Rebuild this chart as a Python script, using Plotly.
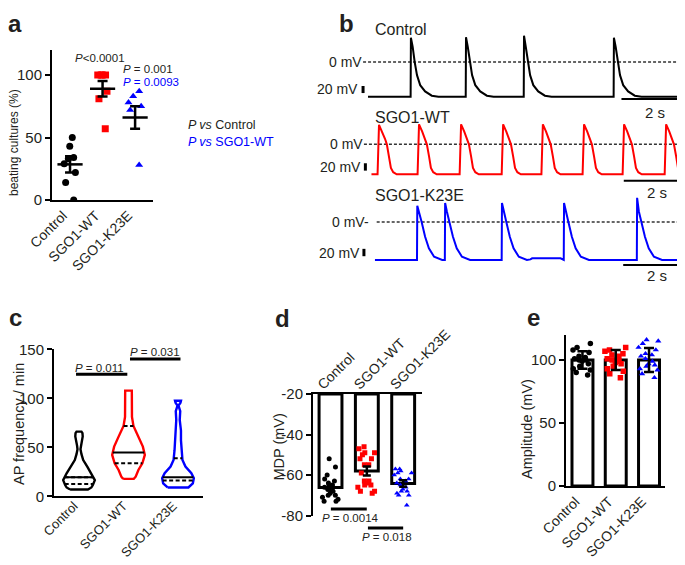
import numpy as np
import plotly.graph_objects as go

W, H = 685, 565
OFF = 8  # the page body adds an 8 px margin; positions below are page pixels
FONT = "Liberation Sans, Arial, Helvetica, sans-serif"
INK = "#231f20"

groups = ["Control", "SGO1-WT", "SGO1-K23E"]
colors = ["#000000", "#ff0000", "#0000ff"]
symbols = ["circle", "square", "triangle-up"]

# a: beating cultures (%)
beat_ctrl = [50, 43, 34, 33, 29, 22, 14, 0]
beat_wt = [100, 100, 100, 100, 87, 81, 57]
beat_k23e = [87, 83, 78, 75, 72, 28]
beat_mean = [28.5, 89, 66]
beat_sem = [6.5, 6.2, 9]

# b: action potentials, time (s) / membrane potential (mV)
ctrl_spikes = [1.48, 3.38, 5.38, 8.48]
ctrl_peaks = [46, 47, 50, 46]
ctrl_shape_t = [-0.01, 0, 0.06, 0.13, 0.21, 0.32, 0.49, 0.72, 0.95]
ctrl_shape_v = [-66, 46, 29, 0, -25, -44, -56, -64, -66]

wt_spikes = [0.38, 1.76, 3.21, 4.66, 6.03, 7.45, 8.83, 10.28]
wt_peaks = [37, 38, 38, 38, 38, 38, 38, 38]
wt_shape_t = [-0.05, 0, 0.11, 0.21, 0.27, 0.345, 0.41, 0.49, 0.61]
wt_shape_v = [-57, 38, 24, 10, 0, -23, -45, -53, -57]

k23e_spikes = [1.70, 2.66, 4.62, 6.76, 9.28]
k23e_peaks = [31, 36, 36, 36, 46]
k23e_shape_t = [-0.01, 0, 0.06, 0.15, 0.27, 0.40, 0.58, 0.86]
k23e_shape_v = [-72, 36, 20, 0, -28, -50, -66, -72]
k23e_bump_t = [5.6, 5.66, 6.64, 6.71]
k23e_bump_v = [-71, -69, -69, -71]

# c: AP frequency / min, violin outlines (value, half width in category units)
vio_ctrl_y = [7, 9, 11.5, 16.5, 23.5, 30, 37, 43, 48, 52, 56, 61, 64.5, 66]
vio_ctrl_w = [0.18, 0.25, 0.28, 0.32, 0.25, 0.17, 0.085, 0.05, 0.03, 0.04, 0.06, 0.075, 0.07, 0.05]
vio_wt_y = [17.8, 20, 26.9, 33.7, 42.2, 50.7, 60.9, 71.8, 81, 95, 107.8]
vio_wt_w = [0.107, 0.145, 0.2, 0.28, 0.33, 0.29, 0.2, 0.1, 0.07, 0.067, 0.067]
vio_k23e_y = [9, 13.3, 18.4, 23.5, 30.3, 37, 47, 57, 67, 78, 87, 92.5, 95.5, 97.5]
vio_k23e_w = [0.21, 0.3, 0.32, 0.27, 0.15, 0.09, 0.07, 0.06, 0.06, 0.035, 0.045, 0.01, 0.05, 0.06]
freq_median = [19.4, 44.6, 19.4]
freq_q1 = [12.6, 33.7, 16]
freq_q3 = [19.4, 71.8, 38.8]

# d: MDP (mV)
mdp_ctrl = [-52, -56, -60, -62, -63, -64, -65, -66, -67, -68, -69, -70, -70, -71, -72, -73, -73]
mdp_wt = [-46, -47, -49, -49, -50, -52, -52, -55, -55, -59, -63, -63, -64, -65, -65, -66, -68, -68, -69]
mdp_k23e = [-57, -57, -58, -59, -59, -60, -62, -62, -63, -64, -65, -66, -67, -68, -68, -69, -70, -70, -75]
mdp_mean = [-66.2, -58, -64.2]
mdp_sem = [1.4, 2.2, 1.6]
mdp_ticks = [-80, -60, -40, -20]
mdp_ticktext = ["-80", "-60", "-40", "-20"]

# e: amplitude (mV)
amp_ctrl = [113, 110, 108, 106, 103, 102, 101, 100, 100, 99, 97, 95, 93, 92, 90, 88]
amp_wt = [110, 108, 107, 105, 104, 103, 101, 100, 99, 98, 97, 95, 93, 91, 89, 86]
amp_k23e = [116, 115, 113, 110, 108, 105, 104, 103, 101, 99, 97, 96, 95, 93, 92, 89, 86]
amp_mean = [100, 100, 100]
amp_sd = [7, 8, 9.5]


def xd(a, b):
    return [(a - OFF) / W, (b - OFF) / W]


def yd(top, bot):
    return [1 - (bot - OFF) / H, 1 - (top - OFF) / H]


def ap_trace(t0, t1, spikes, peaks, sh_t, sh_v, extra_t=(), extra_v=()):
    t, v = [t0], [sh_v[0]]
    for ts, pk in zip(spikes, peaks):
        for dt, vv in zip(sh_t, sh_v):
            t.append(ts + dt)
            v.append(pk if dt == 0 else vv)
    if t1 is not None:
        t.append(t1)
        v.append(sh_v[-1])
    t += list(extra_t)
    v += list(extra_v)
    order = np.argsort(t)
    return np.array(t)[order], np.array(v)[order]


fig = go.Figure()


def note(text, x, y, size=11, color=INK, xanchor="center", yanchor="middle", bold=False, **kw):
    fig.add_annotation(text=text, x=(x - OFF) / W, y=1 - (y - OFF) / H, xref="paper", yref="paper",
                       showarrow=False, borderpad=0,
                       font=dict(family=FONT, size=size, color=color, weight="bold" if bold else "normal"),
                       xanchor=xanchor, yanchor=yanchor, **kw)


def points(vals, i, ax, ay, size, width, jitter):
    fig.add_trace(go.Box(x=[i] * len(vals), y=vals, boxpoints="all", jitter=jitter, pointpos=0, width=width,
                         fillcolor="rgba(0,0,0,0)", line=dict(width=0, color="rgba(0,0,0,0)"),
                         marker=dict(color=colors[i], symbol=symbols[i], size=size, line=dict(width=0)),
                         xaxis=ax, yaxis=ay))


# ---------- a ----------
for i, vals in enumerate([beat_ctrl, beat_wt, beat_k23e]):
    points(vals, i, "x", "y", 7, 0.6, 0.8)
fig.add_trace(go.Scatter(x=[0, 1, 2], y=beat_mean, mode="markers", cliponaxis=False,
                         marker=dict(symbol="line-ew", size=18, line=dict(width=2.5, color="black")),
                         error_y=dict(type="data", array=beat_sem, thickness=2.5, width=5, color="black"),
                         xaxis="x", yaxis="y"))

# ---------- b ----------
tr_ctrl = ap_trace(0.0, 10.8, ctrl_spikes, ctrl_peaks, ctrl_shape_t, ctrl_shape_v)
tr_wt = ap_trace(0.12, None, wt_spikes, wt_peaks, wt_shape_t, wt_shape_v)
tr_k = ap_trace(0.24, 10.83, k23e_spikes, k23e_peaks, k23e_shape_t, k23e_shape_v, k23e_bump_t, k23e_bump_v)
zero_start = [-0.17, -0.14, 0.3]
bar2s = [(8.74, -70.3), (8.82, -69.2), (8.80, -81.7)]
bar20 = [(-0.17, -45.6, -59.0), (-0.09, -36.0, -50.0), (-0.14, -51.0, -65.0)]
for i, (t, v) in enumerate([tr_ctrl, tr_wt, tr_k]):
    xa, ya = f"x{i + 2}", f"y{i + 2}"
    fig.add_trace(go.Scatter(x=[zero_start[i], 10.87], y=[0, 0], mode="lines",
                             line=dict(color="#333333", width=1.4, dash="3px,2px"), xaxis=xa, yaxis=ya))
    fig.add_trace(go.Scatter(x=t, y=v, mode="lines", line=dict(color=colors[i], width=2), xaxis=xa, yaxis=ya))
    t0, yb = bar2s[i]
    fig.add_shape(type="line", xref=xa, yref=ya, x0=t0, x1=t0 + 2, y0=yb, y1=yb, line=dict(color="black", width=2))
    xb, y0, y1 = bar20[i]
    fig.add_shape(type="line", xref=xa, yref=ya, x0=xb, x1=xb, y0=y0, y1=y1, line=dict(color="black", width=3))

note("Control", 374, 30, size=16, xanchor="left")
note("SGO1-WT", 374, 117, size=16, xanchor="left")
note("SGO1-K23E", 374, 196, size=16, xanchor="left")
for yy, xr, txt in [(62, 363, "0 mV"), (144.3, 364, "0 mV"), (222, 370, "0 mV-")]:
    note(txt, xr, yy, size=14, xanchor="right")
for yy, xr in [(89.3, 359), (166.7, 362), (252.7, 361)]:
    note("20 mV", xr, yy, size=14, xanchor="right")
for xx, yy in [(654.5, 112.7), (656.5, 192.3), (656.5, 275)]:
    note("2 s", xx, yy, size=15)

# ---------- c ----------
profiles = [(vio_ctrl_y, vio_ctrl_w), (vio_wt_y, vio_wt_w), (vio_k23e_y, vio_k23e_w)]
for i, (vs, ws) in enumerate(profiles):
    xs = [i - w for w in ws] + [i + w for w in ws[::-1]] + [i - ws[0]]
    ys = vs + vs[::-1] + [vs[0]]
    fig.add_trace(go.Scatter(x=xs, y=ys, mode="lines", line=dict(color=colors[i], width=2.4),
                             xaxis="x5", yaxis="y5"))
    for val, dash in [(freq_q1[i], "4px,2.5px"), (freq_q3[i], "4px,2.5px"), (freq_median[i], "solid")]:
        hw = float(np.interp(val, vs, ws))
        fig.add_trace(go.Scatter(x=[i - hw, i + hw], y=[val, val], mode="lines",
                                 line=dict(color="black", width=2, dash=dash), xaxis="x5", yaxis="y5"))
for x0, x1, yb in [(-0.06, 0.976, 124.5), (1.03, 2.05, 140)]:
    fig.add_trace(go.Scatter(x=[x0, x1], y=[yb, yb], mode="lines", line=dict(color="black", width=3),
                             xaxis="x5", yaxis="y5"))
note("<i>P</i> = 0.011", 99.3, 367.7, size=11.5)
note("<i>P</i> = 0.031", 155, 352.3, size=11.5)

# ---------- d ----------
MDP_BASE = -20
fig.add_trace(go.Bar(x=[0, 1, 2], y=[m - MDP_BASE for m in mdp_mean], base=MDP_BASE, width=0.63,
                     marker=dict(color="white", line=dict(color="black", width=3)), xaxis="x6", yaxis="y6"))
for i, vals in enumerate([mdp_ctrl, mdp_wt, mdp_k23e]):
    points(vals, i, "x6", "y6", 5, 0.65, 0.9)
fig.add_trace(go.Scatter(x=[0, 1, 2], y=mdp_mean, mode="markers", marker=dict(size=1, color="rgba(0,0,0,0)"),
                         error_y=dict(type="data", array=mdp_sem, thickness=2.5, width=4, color="black"),
                         xaxis="x6", yaxis="y6"))
for x0, x1, yb in [(0.01, 0.998, -76.8), (1.03, 2.0, -86.2)]:
    fig.add_trace(go.Scatter(x=[x0, x1], y=[yb, yb], mode="lines", line=dict(color="black", width=3),
                             xaxis="x8", yaxis="y8"))
note("<i>P</i> = 0.0014", 350, 518.3, size=11.5)
note("<i>P</i> = 0.018", 386.7, 537.3, size=11.5)

# ---------- e ----------
fig.add_trace(go.Bar(x=[0, 1, 2], y=amp_mean, width=0.63,
                     marker=dict(color="white", line=dict(color="black", width=3)), xaxis="x7", yaxis="y7"))
for i, vals in enumerate([amp_ctrl, amp_wt, amp_k23e]):
    points(vals, i, "x7", "y7", 5.5, 0.7, 1.0)
fig.add_trace(go.Scatter(x=[0, 1, 2], y=amp_mean, mode="markers", marker=dict(size=1, color="rgba(0,0,0,0)"),
                         error_y=dict(type="data", array=amp_sd, thickness=2.5, width=5, color="black"),
                         xaxis="x7", yaxis="y7"))

# ---------- texts ----------
note("<i>P</i><0.0001", 99.7, 58.3, size=11.5)
note("<i>P</i> = 0.001", 122, 69.5, size=11.5, xanchor="left")
note("<i>P</i> = 0.0093", 122, 81.5, size=11.5, xanchor="left", color="#0000ff")
note("<i>P vs</i> Control", 187, 125, size=12.5, xanchor="left")
note("<i>P vs</i> SGO1-WT", 187, 141.5, size=12.5, xanchor="left", color="#0000ff")

note("beating cultures (%)", 14, 143, size=12, textangle=-90)
note("AP frequency / min", 18.5, 424.5, size=14.5, textangle=-90)
note("MDP (mV)", 279, 447.6, size=14.5, textangle=-90)
note("Amplitude (mV)", 527, 429, size=14.5, textangle=-90)

for lt, xx, yy in [("a", 15, 23), ("b", 346, 23), ("c", 15, 317), ("d", 282, 318), ("e", 533, 317)]:
    note(lt, xx, yy, size=24, bold=True)

ax = dict(showgrid=False, zeroline=False, showline=True, linecolor="black", linewidth=2, ticks="outside",
          ticklen=5, tickwidth=2, tickcolor="black", tickfont=dict(family=FONT, size=15, color=INK),
          fixedrange=True)
xcat = dict(ax, ticks="", tickvals=[0, 1, 2], ticktext=groups, tickangle=-45, ticklabelshift=-7,
            tickfont=dict(family=FONT, size=14, color=INK))
hidden = dict(visible=False, fixedrange=True)

fig.update_layout(
    width=W, height=H, margin=dict(l=0, r=0, t=0, b=0), template="none", showlegend=False,
    paper_bgcolor="white", plot_bgcolor="rgba(0,0,0,0)", font=dict(family=FONT, color=INK),
    xaxis=dict(xcat, domain=xd(52, 153), range=[-0.554, 2.55], anchor="y"),
    yaxis=dict(ax, domain=yd(50, 200), range=[0, 120], anchor="x", tickvals=[0, 50, 100]),
    xaxis2=dict(hidden, domain=xd(359, 685), range=[-0.31, 10.931], anchor="y2"),
    yaxis2=dict(hidden, domain=yd(30, 105), range=[-81.7, 60.8], anchor="x2"),
    xaxis3=dict(hidden, domain=xd(359, 685), range=[-0.31, 10.931], anchor="y3"),
    yaxis3=dict(hidden, domain=yd(112, 185), range=[-77.3, 61.4], anchor="x3"),
    xaxis4=dict(hidden, domain=xd(359, 685), range=[-0.31, 10.931], anchor="y4"),
    yaxis4=dict(hidden, domain=yd(190, 270), range=[-91.2, 60.8], anchor="x4"),
    xaxis5=dict(xcat, domain=xd(54, 203), range=[-0.505, 2.505], anchor="y5", ticklabelstandoff=-5,
                ticklabelshift=-5, tickfont=dict(family=FONT, size=13, color=INK)),
    yaxis5=dict(ax, domain=yd(349.3, 496.3), range=[0, 150], anchor="x5", tickvals=[0, 50, 100, 150]),
    xaxis6=dict(xcat, domain=xd(313, 421.7), range=[-0.482, 2.51], anchor="y6", side="top",
                ticklabelshift=-12, ticklabelstandoff=-6),
    yaxis6=dict(ax, domain=yd(394, 515.5), range=[-80, -20], anchor="x6", tickvals=mdp_ticks,
                ticktext=mdp_ticktext),
    xaxis8=dict(hidden, domain=xd(313, 421.7), range=[-0.482, 2.51], anchor="y8"),
    yaxis8=dict(hidden, domain=yd(394, 545), range=[-20 - 151 / 2.025, -20], anchor="x8"),
    xaxis7=dict(xcat, domain=xd(566, 665), range=[-0.495, 2.48], anchor="y7"),
    yaxis7=dict(ax, domain=yd(334.8, 486), range=[0, 120], anchor="x7", tickvals=[0, 50, 100]),
)

fig.write_html("out.html")
